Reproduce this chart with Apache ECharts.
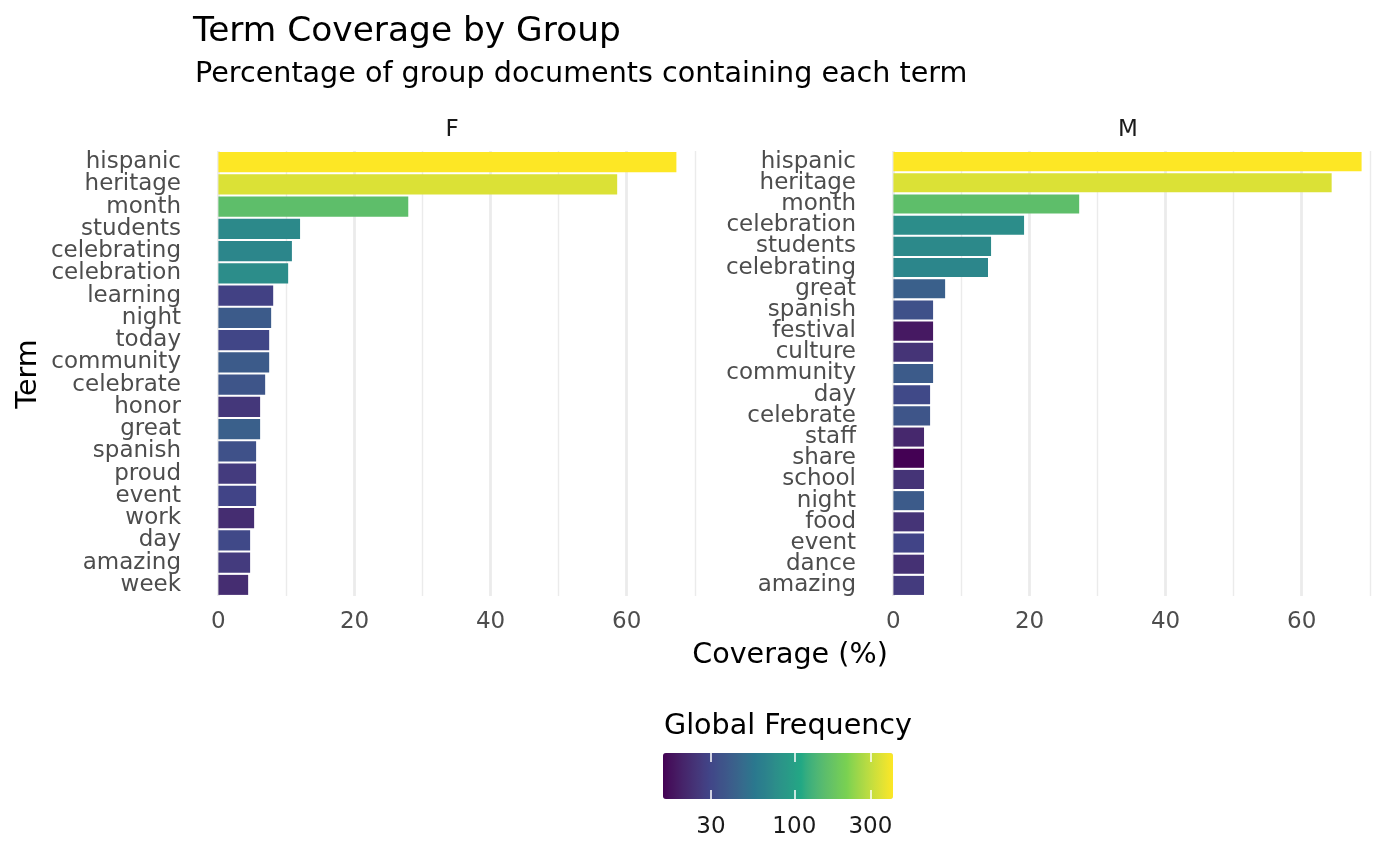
<!DOCTYPE html>
<html><head><meta charset="utf-8">
<script src="https://cdn.jsdelivr.net/npm/echarts@6/dist/echarts.min.js"></script>
<style>html,body{margin:0;padding:0;background:#fff}#c{width:1400px;height:865px}</style>
</head><body><div id="c"></div>
<script>
// ---- data ----
const termsF = ['hispanic','heritage','month','students','celebrating','celebration','learning','night','today','community','celebrate','honor','great','spanish','proud','event','work','day','amazing','week'];
const coverageF = [67.3, 58.6, 27.9, 12.0, 10.8, 10.25, 8.05, 7.75, 7.46, 7.46, 6.87, 6.13, 6.13, 5.54, 5.54, 5.54, 5.25, 4.66, 4.66, 4.37];
const freqF = [416, 345, 160, 72, 69, 76, 28, 39, 30, 39, 36, 25, 42, 34, 26, 29, 22, 31, 26, 22];

const termsM = ['hispanic','heritage','month','celebration','students','celebrating','great','spanish','festival','culture','community','day','celebrate','staff','share','school','night','food','event','dance','amazing'];
const coverageM = [68.8, 64.4, 27.3, 19.2, 14.35, 13.9, 7.6, 5.83, 5.83, 5.83, 5.83, 5.39, 5.39, 4.5, 4.5, 4.5, 4.5, 4.5, 4.5, 4.5, 4.5];
const freqM = [416, 345, 160, 76, 72, 69, 42, 34, 18, 24, 39, 31, 36, 21, 15, 24, 39, 24, 29, 23, 26];

const xMajorTicks = [0, 20, 40, 60];
const xMinorTicks = [10, 30, 50, 70];
const legendTicks = [30, 100, 300];

// ggplot viridis palette stops (interpolated in CIELAB like scales::gradient_n_pal)
const viridisStops = ['#440154','#414487','#2A788E','#22A884','#7AD151','#FDE725'];

// ---- colour helpers (Lab interpolation) ----
function hexToLab(h) {
  const c = [1, 3, 5].map(i => parseInt(h.substr(i, 2), 16) / 255)
    .map(v => v <= 0.04045 ? v / 12.92 : Math.pow((v + 0.055) / 1.055, 2.4));
  const X = (0.4124564*c[0] + 0.3575761*c[1] + 0.1804375*c[2]) / 0.95047;
  const Y = (0.2126729*c[0] + 0.7151522*c[1] + 0.0721750*c[2]);
  const Z = (0.0193339*c[0] + 0.1191920*c[1] + 0.9503041*c[2]) / 1.08883;
  const f = t => t > 0.008856 ? Math.cbrt(t) : 7.787*t + 16/116;
  const fx = f(X), fy = f(Y), fz = f(Z);
  return [116*fy - 16, 500*(fx - fy), 200*(fy - fz)];
}
function labToHex(lab) {
  const fy = (lab[0] + 16) / 116, fx = fy + lab[1] / 500, fz = fy - lab[2] / 200;
  const fi = t => t*t*t > 0.008856 ? t*t*t : (t - 16/116) / 7.787;
  const X = fi(fx)*0.95047, Y = fi(fy), Z = fi(fz)*1.08883;
  const lin = [
    3.2404542*X - 1.5371385*Y - 0.4985314*Z,
    -0.9692660*X + 1.8760108*Y + 0.0415560*Z,
    0.0556434*X - 0.2040259*Y + 1.0572252*Z
  ];
  return '#' + lin.map(v => {
    v = v <= 0.0031308 ? 12.92*v : 1.055*Math.pow(v, 1/2.4) - 0.055;
    v = Math.max(0, Math.min(255, Math.round(v*255)));
    return v.toString(16).padStart(2, '0');
  }).join('');
}
const stopLabs = viridisStops.map(hexToLab);
const ramp = [];
for (let k = 0; k <= 50; k++) {
  const t = k / 50 * (stopLabs.length - 1);
  const i = Math.min(Math.floor(t), stopLabs.length - 2), fr = t - i;
  ramp.push(labToHex(stopLabs[i].map((v, j) => v + (stopLabs[i+1][j] - v) * fr)));
}

// ---- derived ----
const covMax = Math.max(...coverageF, ...coverageM);
const xMin = -0.05 * covMax, xMax = covMax * 1.05;
const allFreq = freqF.concat(freqM);
const lMin = Math.log10(Math.min(...allFreq)), lMax = Math.log10(Math.max(...allFreq));

const FONT = 'DejaVu Sans';
const grey = '#EBEBEB';

function majorAxis(grid) {
  return {
    type: 'value', gridIndex: grid, min: xMin, max: xMax,
    axisLine: {show: false},
    axisTick: {show: false, customValues: xMajorTicks},
    axisLabel: {customValues: xMajorTicks, fontSize: 23, color: '#4D4D4D', fontFamily: FONT, margin: 15},
    splitLine: {show: true, lineStyle: {color: grey, width: 2.8}}
  };
}
function minorAxis(grid) {
  return {
    type: 'value', gridIndex: grid, min: xMin, max: xMax, position: 'bottom',
    axisLine: {show: false},
    axisTick: {show: false, customValues: xMinorTicks},
    axisLabel: {show: false},
    splitLine: {show: true, lineStyle: {color: grey, width: 1.4}}
  };
}
function catAxis(grid, terms) {
  return {
    type: 'category', gridIndex: grid, data: terms, inverse: true,
    axisLine: {show: false}, axisTick: {show: false},
    axisLabel: {interval: 0, fontSize: 23, color: '#4D4D4D', fontFamily: FONT, margin: 14, padding: [8, 0, 0, 0]},
    splitLine: {show: false}
  };
}

const chart = echarts.init(document.getElementById('c'), null, {renderer: 'canvas'});
const option = {
  backgroundColor: '#fff',
  animation: false,
  textStyle: {fontFamily: FONT},
  grid: [
    {left: 195, width: 515, top: 151, height: 445},
    {left: 870, width: 515, top: 151, height: 445},
    {left: 663, width: 230, top: 753, height: 46}
  ],
  xAxis: [
    majorAxis(0), minorAxis(0), majorAxis(1), minorAxis(1),
    {type: 'value', gridIndex: 2, min: lMin, max: lMax, position: 'bottom', z: 10,
     axisLine: {show: false},
     axisTick: {show: true, inside: true, length: 9, customValues: legendTicks.map(Math.log10), lineStyle: {color: '#fff', width: 1.5}},
     axisLabel: {customValues: legendTicks.map(Math.log10), formatter: v => String(Math.round(Math.pow(10, v))), fontSize: 23, color: '#1A1A1A', fontFamily: FONT, margin: 17},
     splitLine: {show: false}},
    {type: 'value', gridIndex: 2, min: lMin, max: lMax, position: 'top', z: 10,
     axisLine: {show: false},
     axisTick: {show: true, inside: true, length: 9, customValues: legendTicks.map(Math.log10), lineStyle: {color: '#fff', width: 1.5}},
     axisLabel: {show: false},
     splitLine: {show: false}}
  ],
  yAxis: [catAxis(0, termsF), catAxis(1, termsM), {type: 'value', gridIndex: 2, show: false, min: 0, max: 1}],
  visualMap: {
    type: 'continuous', min: lMin, max: lMax, dimension: 2, seriesIndex: [0, 1],
    inRange: {color: ramp}, orient: 'horizontal', calculable: false, hoverLink: false,
    itemWidth: 46, itemHeight: 230, left: 658, top: 748, text: null, padding: 5
  },
  series: [
    {type: 'bar', xAxisIndex: 0, yAxisIndex: 0, encode: {x: 0, y: 1}, barCategoryGap: '10%', silent: true,
     data: termsF.map((t, i) => [coverageF[i], t, Math.log10(freqF[i])])},
    {type: 'bar', xAxisIndex: 2, yAxisIndex: 1, encode: {x: 0, y: 1}, barCategoryGap: '10%', silent: true,
     data: termsM.map((t, i) => [coverageM[i], t, Math.log10(freqM[i])])},
    {type: 'scatter', xAxisIndex: 4, yAxisIndex: 2, data: [], silent: true}
  ],
  graphic: [
    {type: 'text', x: 193, y: 32, style: {text: 'Term Coverage by Group', font: '34.4px "DejaVu Sans"', fill: '#000', textAlign: 'left', textVerticalAlign: 'middle'}},
    {type: 'text', x: 195, y: 75, style: {text: 'Percentage of group documents containing each term', font: '28.6px "DejaVu Sans"', fill: '#000', textAlign: 'left', textVerticalAlign: 'middle'}},
    {type: 'text', x: 452, y: 130, style: {text: 'F', font: '23px "DejaVu Sans"', fill: '#1A1A1A', textAlign: 'center', textVerticalAlign: 'middle'}},
    {type: 'text', x: 1128, y: 130, style: {text: 'M', font: '23px "DejaVu Sans"', fill: '#1A1A1A', textAlign: 'center', textVerticalAlign: 'middle'}},
    {type: 'text', x: 790, y: 656, style: {text: 'Coverage (%)', font: '28.6px "DejaVu Sans"', fill: '#000', textAlign: 'center', textVerticalAlign: 'middle'}},
    {type: 'text', x: 29, y: 374, rotation: Math.PI / 2, style: {text: 'Term', font: '28.6px "DejaVu Sans"', fill: '#000', textAlign: 'center', textVerticalAlign: 'middle'}},
    {type: 'text', x: 664, y: 727, style: {text: 'Global Frequency', font: '28.6px "DejaVu Sans"', fill: '#000', textAlign: 'left', textVerticalAlign: 'middle'}}
  ]
};
chart.setOption(option);
</script>
</body></html>
